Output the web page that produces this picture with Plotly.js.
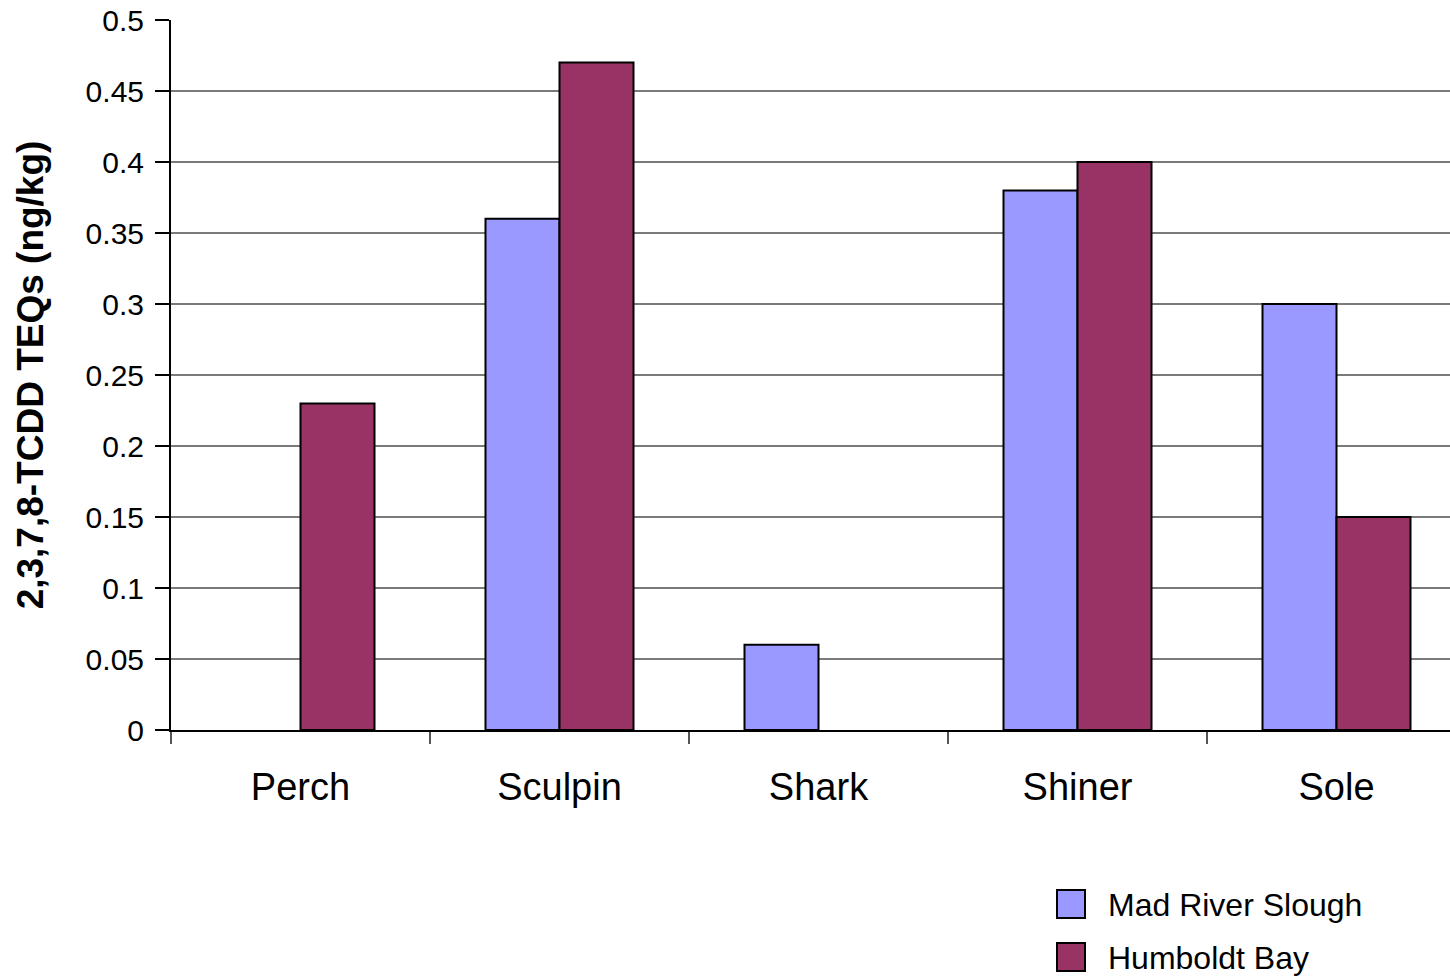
<!DOCTYPE html>
<html>
<head>
<meta charset="utf-8">
<script src="https://cdn.plot.ly/plotly-3.0.1.min.js"></script>
<style>
  html, body { margin: 0; padding: 0; overflow: hidden; background: #fff; }
  #chart { width: 1466px; height: 976px; }
</style>
</head>
<body>
<div id="chart"></div>
<script>
// Fish species sampled
const species = ['Perch', 'Sculpin', 'Shark', 'Shiner', 'Sole'];

// Dioxin toxic equivalents, ng/kg (null = not sampled at that site)
const madRiverSlough = [null, 0.36, 0.06, 0.38, 0.30];
const humboldtBay    = [0.23, 0.47, null, 0.40, 0.15];

const seriesNames  = ['Mad River Slough', 'Humboldt Bay'];
const seriesColors = ['#9999FF', '#993366'];

const yTitle = '2,3,7,8-TCDD TEQs (ng/kg)';

const W = 1466, H = 976;
const M = { l: 171, r: 0, t: 20, b: 246 };
const plotW = W - M.l - M.r, plotH = H - M.t - M.b;
const px2x = p => (p - M.l) / plotW;
const px2y = p => (H - M.b - p) / plotH;

const font = 'Liberation Sans, Arial, sans-serif';

const traces = [madRiverSlough, humboldtBay].map((vals, i) => ({
  type: 'bar',
  name: seriesNames[i],
  x: species,
  y: vals,
  marker: { color: seriesColors[i], line: { color: '#000', width: 2 } },
  showlegend: false,
  hoverinfo: 'x+y+name'
}));

// Legend keys drawn as large outlined squares beside their labels
const legendShapes = [], legendText = [];
seriesNames.forEach((name, i) => {
  const top = 890 + i * 53;
  legendShapes.push({
    type: 'rect', xref: 'paper', yref: 'paper',
    x0: px2x(1057), x1: px2x(1085), y0: px2y(top + 28), y1: px2y(top),
    fillcolor: seriesColors[i], line: { color: '#000', width: 2 }
  });
  legendText.push({
    xref: 'paper', yref: 'paper', x: px2x(1106), y: px2y(top + 15),
    xanchor: 'left', yanchor: 'middle', showarrow: false,
    text: name, font: { family: font, size: 32, color: '#000' }
  });
});

const layout = {
  width: W, height: H,
  margin: M,
  paper_bgcolor: '#fff', plot_bgcolor: '#fff',
  barmode: 'group',
  bargap: 0.4286,
  bargroupgap: 0,
  showlegend: false,
  xaxis: {
    type: 'category',
    tickson: 'boundaries',
    ticks: 'outside', ticklen: 12, tickwidth: 1.5, tickcolor: '#555',
    showline: true, linecolor: '#000', linewidth: 2,
    showgrid: false,
    tickfont: { family: font, size: 38, color: '#000' },
    ticklabelstandoff: 22,
    fixedrange: true
  },
  yaxis: {
    range: [0, 0.5],
    dtick: 0.05,
    tick0: 0,
    ticks: 'outside', ticklen: 14, tickwidth: 1.5, tickcolor: '#000',
    showline: true, linecolor: '#000', linewidth: 2,
    showgrid: true, gridcolor: '#7a7a7a', gridwidth: 1.5,
    zeroline: false,
    tickfont: { family: font, size: 30, color: '#000' },
    ticklabelstandoff: 5,
    title: { text: yTitle, font: { family: font, size: 37, color: '#000', weight: 'bold' }, standoff: 31 },
    fixedrange: true
  },
  shapes: legendShapes,
  annotations: legendText
};

Plotly.newPlot('chart', traces, layout, { displayModeBar: false, staticPlot: true });
</script>
</body>
</html>
